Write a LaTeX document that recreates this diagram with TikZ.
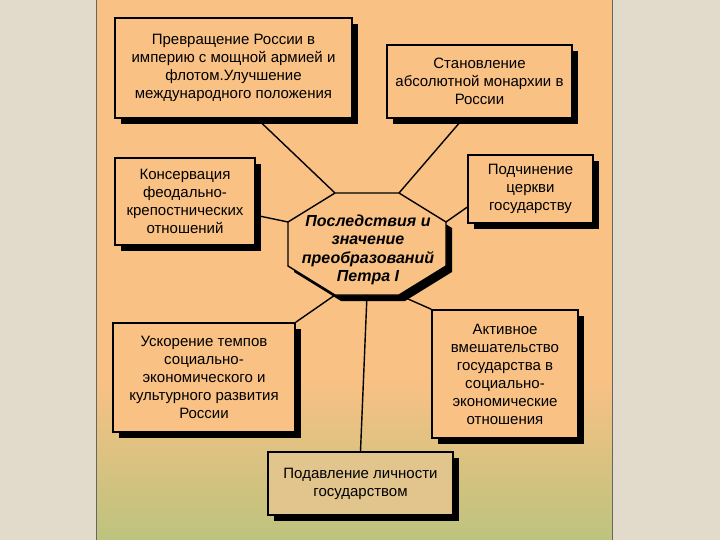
\documentclass[tikz,border=0pt]{standalone}
\usepackage{fontspec}
\setmainfont{Liberation Sans}
\usetikzlibrary{shadows}
\definecolor{peach}{RGB}{249,193,132}
\definecolor{olive}{RGB}{188,195,126}
\definecolor{canvas}{RGB}{226,219,203}
\definecolor{tan}{RGB}{226,197,140}
\tikzset{
  hardshadow/.style={drop shadow={shadow xshift=6pt,shadow yshift=-6pt,opacity=1,fill=black}},
  block/.style={draw,fill=peach,line width=1.6pt,align=center,inner sep=0pt,
    font=\fontsize{15}{18}\selectfont,hardshadow},
  link/.style={line width=1.4pt}
}
\begin{document}
\begin{tikzpicture}[x=1pt,y=-1pt]
          \useasboundingbox (0,0) rectangle (720,540);
          \fill[canvas] (0,0) rectangle (720,540);
          \fill[peach] (96,0) rectangle (612,380);
          \shade[top color=peach,bottom color=olive] (96,380) rectangle (612,540);
          \draw[black!60,thin] (96,0) -- (96,540) (612,0) -- (612,540);
          \node[block,minimum width=237pt,minimum height=100pt] (box1) at (233.5,68) {Превращение России в\\империю с мощной армией и\\флотом.Улучшение\\международного положения};
          \node[block,minimum width=185pt,minimum height=73pt] (box2) at (479.5,81.5) {Становление\\абсолютной монархии в\\России};
          \node[block,minimum width=140pt,minimum height=87pt] (box3) at (185,201.5) {Консервация\\феодально-\\крепостнических\\отношений};
          \node[block,minimum width=125pt,minimum height=68pt] (box4) at (530.5,189) {Подчинение\\церкви\\государству};
          \node[block,minimum width=182pt,minimum height=109pt] (box5) at (204,377.5) {Ускорение темпов\\социально-\\экономического и\\культурного развития\\России};
          \node[block,minimum width=146pt,minimum height=128pt] (box6) at (505,374) {Активное\\вмешательство\\государства в\\социально-\\экономические\\отношения};
          \node[block,fill=tan,minimum width=185pt,minimum height=63pt] (box7) at (360.5,483.5) {Подавление личности\\государством};
          \coordinate (o1) at (335,193);
          \coordinate (o2) at (399,193);
          \coordinate (o3) at (446,222);
          \coordinate (o4) at (446,266);
          \coordinate (o5) at (399,295);
          \coordinate (o6) at (335,295);
          \coordinate (o7) at (288,266);
          \coordinate (o8) at (288,222);
          \coordinate (obot) at (367,295);
          \draw[fill=peach,line width=1.4pt,hardshadow] (o1)--(o2)--(o3)--(o4)--(o5)--(o6)--(o7)--(o8)--cycle;
          \node[font=\fontsize{16}{18.5}\selectfont\bfseries\itshape,align=center] (core) at (368,250) {Последствия и\\значение\\преобразований\\Петра I};
          \draw[link] (box1.-65) -- (o1);
          \draw[link] (box2.-114) -- (o2);
          \draw[link] (box3.-11) -- (o8);
          \draw[link] (box4.-164) -- (o3);
          \draw[link] (box5.north east) -- (o6);
          \draw[link] (box6.north west) -- (o5);
          \draw[link] (obot) -- (box7.north);
        \end{tikzpicture}
\end{document}
